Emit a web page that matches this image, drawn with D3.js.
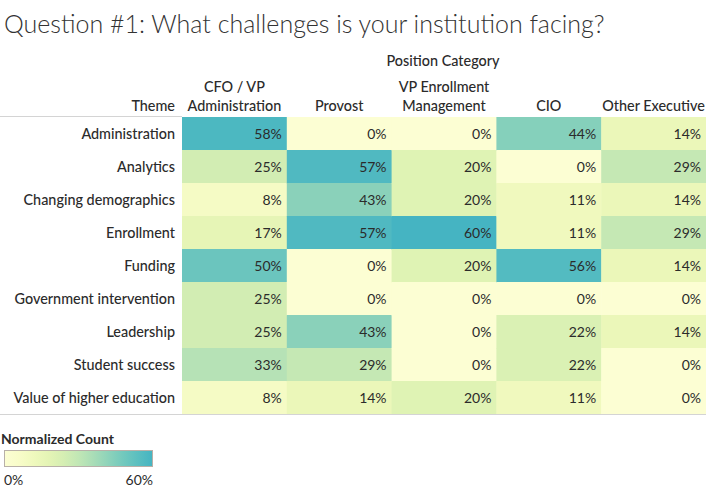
<!DOCTYPE html>
<html><head><meta charset="utf-8">
<script src="https://cdn.jsdelivr.net/npm/d3@7"></script>
<style>body{margin:0;background:#fff;} text{font-family:Lato,"Open Sans",sans-serif;}</style>
</head><body><svg id="c" width="706" height="492"></svg>
<script>
const themes = ["Administration","Analytics","Changing demographics","Enrollment","Funding","Government intervention","Leadership","Student success","Value of higher education"];
const positions = [["CFO / VP","Administration"],["Provost"],["VP Enrollment","Management"],["CIO"],["Other Executive"]];
const cfo      = [58,25,8,17,50,25,25,33,8];
const provost  = [0,57,43,57,0,0,43,29,14];
const vpEnroll = [0,20,20,60,20,0,0,0,20];
const cio      = [44,0,11,11,56,0,22,22,11];
const other    = [14,29,14,29,14,0,14,0,0];
const legendTicks = ["0%","60%"];

const series = [cfo, provost, vpEnroll, cio, other];
const svg = d3.select("#c");
const x = d3.scaleBand().domain(d3.range(positions.length)).range([182,706]).padding(0);
const y = d3.scaleBand().domain(themes).range([117,414]).padding(0);
const color = v => d3.interpolateYlGnBu(Math.max(0.02, v/60*0.5));
const LBL = 14.4, LW = 500, TXT = "#2b2b2b";

svg.append("text").attr("x",4).attr("y",33).attr("font-size",25).attr("font-weight",300)
  .attr("fill","#333").text("Question #1: What challenges is your institution facing?");
svg.append("text").attr("x",443).attr("y",66).attr("text-anchor","middle").attr("font-size",LBL)
  .attr("font-weight",LW).attr("fill",TXT).text("Position Category");
svg.append("text").attr("x",175).attr("y",111).attr("text-anchor","end").attr("font-size",LBL)
  .attr("font-weight",LW).attr("fill",TXT).text("Theme");
positions.forEach((p,i)=>{
  const cx = x(i)+x.bandwidth()/2;
  p.forEach((line,j)=>{
    svg.append("text").attr("x",cx).attr("y",111-(p.length-1-j)*19).attr("text-anchor","middle")
      .attr("font-size",LBL).attr("font-weight",LW).attr("fill",TXT).text(line);
  });
});
const cells = [];
series.forEach((s,i)=>s.forEach((v,r)=>cells.push({i,r,v})));
svg.selectAll("rect.cell").data(cells).join("rect").attr("class","cell")
  .attr("x",d=>x(d.i)).attr("y",d=>y(themes[d.r])).attr("width",x.bandwidth()+0.5).attr("height",y.bandwidth()+0.5)
  .attr("fill",d=>color(d.v));
svg.selectAll("text.val").data(cells).join("text").attr("class","val")
  .attr("x",d=>x(d.i)+x.bandwidth()-5).attr("y",d=>y(themes[d.r])+y.bandwidth()/2+5)
  .attr("text-anchor","end").attr("font-size",14).attr("fill",TXT).text(d=>d.v+"%");
svg.selectAll("text.row").data(themes).join("text").attr("class","row")
  .attr("x",175).attr("y",d=>y(d)+y.bandwidth()/2+5).attr("text-anchor","end")
  .attr("font-size",LBL).attr("font-weight",LW).attr("fill",TXT).text(d=>d);
svg.append("line").attr("x1",0).attr("x2",182).attr("y1",116.5).attr("y2",116.5).attr("stroke","#d4d4d4");
svg.append("line").attr("x1",0).attr("x2",706).attr("y1",414.5).attr("y2",414.5).attr("stroke","#d4d4d4");

// legend
svg.append("text").attr("x",1).attr("y",444).attr("font-size",14).attr("font-weight",700).attr("fill",TXT).text("Normalized Count");
const grad = svg.append("defs").append("linearGradient").attr("id","g");
d3.range(0,1.01,0.1).forEach(t=>grad.append("stop").attr("offset",t).attr("stop-color",color(t*60)));
svg.append("rect").attr("x",4.5).attr("y",450.5).attr("width",148).attr("height",16).attr("fill","url(#g)").attr("stroke","#b8b0a8");
svg.append("text").attr("x",4).attr("y",485).attr("font-size",14).attr("fill",TXT).text(legendTicks[0]);
svg.append("text").attr("x",153).attr("y",485).attr("text-anchor","end").attr("font-size",14).attr("fill",TXT).text(legendTicks[1]);
</script></body></html>
